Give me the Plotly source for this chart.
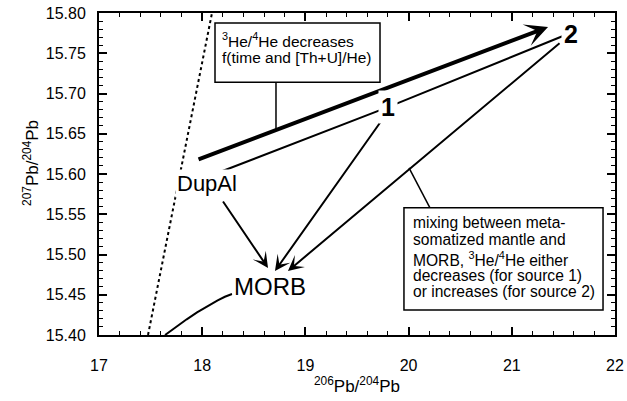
import plotly.graph_objects as go

# Axis ranges and tick labels
x_range = [17, 22]
y_range = [15.40, 15.80]
x_ticks = [17, 18, 19, 20, 21, 22]
y_ticks = [15.40, 15.45, 15.50, 15.55, 15.60, 15.65, 15.70, 15.75, 15.80]

# Geochron (dotted) and Pb growth curve (solid)
geochron_x = [17.475, 18.095]
geochron_y = [15.40, 15.80]
growth_x = [17.64, 17.75, 17.85, 17.95, 18.05, 18.15, 18.22, 18.289]
growth_y = [15.400, 15.4105, 15.4195, 15.4280, 15.4360, 15.4430, 15.4475, 15.4509]

# Time-evolution arrow (thick)
evol_tail = [17.950, 15.6174]
evol_tip = [21.351, 15.7826]

# Line DupAl -> 1 -> 2
mix_x = [18.172, 19.80, 21.496]
mix_y = [15.6025, 15.683, 15.7714]

# Mixing arrows towards MORB: tail (x, y), tip (x, y)
arrows_tail_x = [18.192, 19.742, 21.477]
arrows_tail_y = [15.5677, 15.6671, 15.764]
arrows_tip_x = [18.638, 18.705, 18.831]
arrows_tip_y = [15.4832, 15.4795, 15.4795]

# Component labels
comp_names = ["DupAl", "MORB"]
comp_x = [18.046, 18.660]
comp_y = [15.588, 15.4600]
comp_size = [22, 24]
source_names = ["1", "2"]
source_x = [19.80, 21.574]
source_y = [15.683, 15.774]

# Note boxes
box1 = [18.124, 19.723, 15.714, 15.7876]
box1_lines = ["<sup>3</sup>He/<sup>4</sup>He decreases", "f(time and [Th+U]/He)"]
box1_line_y = [15.7660, 15.7450]
box1_leader_x = [18.715, 18.715]
box1_leader_y = [15.714, 15.6542]

box2 = [19.955, 21.884, 15.431, 15.558]
box2_lines = ["mixing between meta-", "somatized mantle and",
              "MORB, <sup>3</sup>He/<sup>4</sup>He either",
              "decreases (for source 1)", "or increases (for source 2)"]
box2_line_y = [15.5400, 15.5185, 15.4950, 15.4745, 15.4540]
box2_leader_x = [20.004, 20.207]
box2_leader_y = [15.6075, 15.558]

FONT = "Liberation Sans, Arial, sans-serif"
fig = go.Figure()

fig.add_trace(go.Scatter(x=geochron_x, y=geochron_y, mode="lines",
                         line=dict(color="black", width=2, dash="dot"),
                         hoverinfo="skip"))
fig.add_trace(go.Scatter(x=growth_x, y=growth_y, mode="lines",
                         line=dict(color="black", width=2),
                         hoverinfo="skip"))
fig.add_trace(go.Scatter(x=mix_x, y=mix_y, mode="lines",
                         line=dict(color="black", width=2),
                         hoverinfo="skip"))
fig.add_trace(go.Scatter(x=box1_leader_x, y=box1_leader_y, mode="lines",
                         line=dict(color="black", width=1.5), hoverinfo="skip"))
fig.add_trace(go.Scatter(x=box2_leader_x, y=box2_leader_y, mode="lines",
                         line=dict(color="black", width=1.5), hoverinfo="skip"))

# Boxes
for b in (box1, box2):
    fig.add_shape(type="rect", x0=b[0], x1=b[1], y0=b[2], y1=b[3],
                  xref="x", yref="y", line=dict(color="black", width=1.5),
                  fillcolor="white", layer="above")

ann = []
# Thick evolution arrow
ann.append(dict(x=evol_tip[0], y=evol_tip[1], ax=evol_tail[0], ay=evol_tail[1],
                xref="x", yref="y", axref="x", ayref="y", text="",
                showarrow=True, arrowhead=3, arrowsize=0.95, arrowwidth=4,
                arrowcolor="black", standoff=0))
# Mixing arrows
for tx, ty, hx, hy in zip(arrows_tail_x, arrows_tail_y, arrows_tip_x, arrows_tip_y):
    ann.append(dict(x=hx, y=hy, ax=tx, ay=ty, xref="x", yref="y", axref="x", ayref="y",
                    text="", showarrow=True, arrowhead=3, arrowsize=1.3,
                    arrowwidth=2, arrowcolor="black", standoff=0))
# Component labels
for name, x, y, s in zip(comp_names, comp_x, comp_y, comp_size):
    ann.append(dict(x=x, y=y, xref="x", yref="y", text=name, showarrow=False,
                    font=dict(family=FONT, size=s, color="black"),
                    bgcolor="white"))
for name, x, y in zip(source_names, source_x, source_y):
    ann.append(dict(x=x, y=y, xref="x", yref="y", text="<b>%s</b>" % name,
                    showarrow=False, bgcolor="white", borderpad=2,
                    font=dict(family=FONT, size=25, color="black")))
# Box texts
for t, y in zip(box1_lines, box1_line_y):
    ann.append(dict(x=box1[0] + 0.045, y=y, xref="x", yref="y", text=t,
                    showarrow=False, xanchor="left", yanchor="middle",
                    font=dict(family=FONT, size=15.5, color="black")))
for t, y in zip(box2_lines, box2_line_y):
    ann.append(dict(x=box2[0] + 0.070, y=y, xref="x", yref="y", text=t,
                    showarrow=False, xanchor="left", yanchor="middle",
                    font=dict(family=FONT, size=15.6, color="black")))
# Y axis title
ann.append(dict(x=-0.132, y=0.534, xref="paper", yref="paper",
                text="<sup>207</sup>Pb/<sup>204</sup>Pb", textangle=-90,
                showarrow=False, xanchor="center", yanchor="middle",
                font=dict(family=FONT, size=17, color="black")))

fig.update_layout(
    width=627, height=401,
    margin=dict(l=99, r=12, t=13, b=66, autoexpand=False),
    paper_bgcolor="white", plot_bgcolor="white",
    showlegend=False,
    annotations=ann,
    font=dict(family=FONT, color="black"),
)
fig.update_xaxes(range=x_range, tickvals=x_ticks, ticktext=[str(v) for v in x_ticks],
                 showgrid=False, zeroline=False, showline=True, linecolor="black",
                 linewidth=2, mirror="ticks", ticks="inside", ticklen=8,
                 tickwidth=1.5, tickcolor="black", automargin=False,
                 minor=dict(dtick=0.2, ticks="inside", ticklen=4, tickwidth=1.2,
                            tickcolor="black", showgrid=False),
                 tickfont=dict(family=FONT, size=16), ticklabelstandoff=15,
                 title=dict(text="<sup>206</sup>Pb/<sup>204</sup>Pb",
                            font=dict(family=FONT, size=17), standoff=4))
fig.update_yaxes(range=y_range, tickvals=y_ticks, ticktext=["%.2f" % v for v in y_ticks],
                 showgrid=False, zeroline=False, showline=True, linecolor="black",
                 linewidth=2, mirror="ticks", ticks="inside", ticklen=8,
                 tickwidth=1.5, tickcolor="black", automargin=False,
                 minor=dict(dtick=0.01, ticks="inside", ticklen=4, tickwidth=1.2,
                            tickcolor="black", showgrid=False),
                 tickfont=dict(family=FONT, size=16), ticklabelstandoff=8)

fig.write_html("out.html")
